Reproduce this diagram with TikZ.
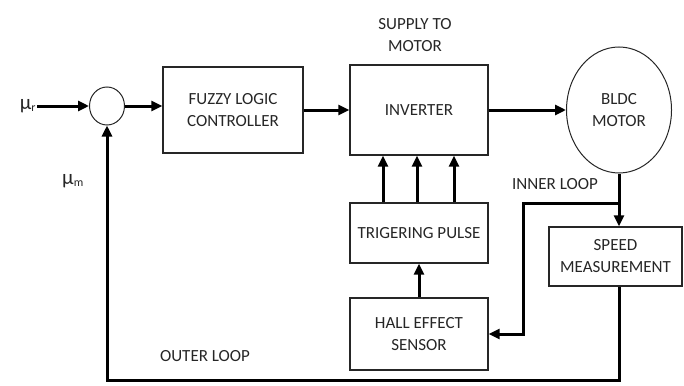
\documentclass[tikz,border=0pt]{standalone}
\usepackage{fontspec}
\setmainfont{Carlito}
\usetikzlibrary{arrows.meta, shapes.geometric}
\newcommand{\lbl}{\fontsize{17}{22}\selectfont}
\newcommand{\muv}[1]{{\fontsize{21}{22}\selectfont μ}\textsubscript{#1}}
\tikzset{
  % a block of the drive
  blk/.style   = {draw=black!85, line width=1.4pt, align=center, font=\lbl,
                  text=black!85, minimum width=138pt, minimum height=60pt,
                  inner sep=2pt},
  % the summing point
  sumpt/.style = {draw=black!85, ellipse, line width=1pt,
                  minimum width=35pt, minimum height=38pt},
  % the motor
  mot/.style   = {draw=black!85, ellipse, line width=1pt, align=center,
                  font=\lbl, text=black!85, inner sep=0pt,
                  minimum width=105pt, minimum height=126pt},
  % a signal line
  sig/.style   = {-{Triangle[length=11pt,width=10pt]}, line width=3pt},
  % a free label
  lb/.style    = {font=\lbl, align=center, text=black!85, inner sep=1pt},
}

\begin{document}
\begin{tikzpicture}[x=1pt, y=-1pt]
  \useasboundingbox (0,0) rectangle (684,385);
  \node[sumpt] (sum) at (107,106) {};
  \node[blk, minimum width=140pt, minimum height=86pt] (flc) at (233,110)
       {FUZZY LOGIC\\CONTROLLER};
  \node[blk, minimum height=90pt] (inv)  at (419,110) {INVERTER};
  \node[blk]                      (trig) at (419,233) {TRIGERING PULSE};
  \node[blk, minimum height=72pt] (hall) at (419,334) {HALL EFFECT\\SENSOR};
  \node[blk, minimum width=133pt, minimum height=59pt] (speed)
       at (615.5,256.5) {SPEED\\MEASUREMENT};
  \node[mot] (bldc) at (619,110) {BLDC\\MOTOR};
  % labels
  \node[lb] (mur)  at (28,106)  {\muv{r}};
  \node[lb] (mum)  at (73,181)  {\muv{m}};
  \node[lb] (sup)  at (415,35)  {SUPPLY TO\\MOTOR};
  \node[lb] (inl)  at (555,184) {INNER LOOP};
  \node[lb] (outl) at (205,356) {OUTER LOOP};
  % forward path
  \draw[sig] (mur) -- (sum);
  \draw[sig] (sum) -- (flc.west |- sum);
  \draw[sig] (flc) -- (inv);
  \draw[sig] (inv) -- (bldc);
  % firing signals
  \foreach \dx in {-36,-2,35}
    \draw[sig] ([xshift=\dx pt]trig.north) -- ([xshift=\dx pt]inv.south);
  \draw[sig] (hall) -- (trig);
  % inner loop
  \coordinate (tap)  at (619,203);
  \coordinate (bend) at (523,203);
  \coordinate (drop) at (523,334);
  \draw[sig] (bldc.south) -- (tap |- speed.north);
  \draw[sig] (tap) -- (bend) -- (drop) -- (hall.east);
  % outer loop
  \coordinate (low) at (619,380);
  \draw[sig] (speed.south -| low) -- (low) -- (sum |- low) -- (sum.south);
\end{tikzpicture}
\end{document}
